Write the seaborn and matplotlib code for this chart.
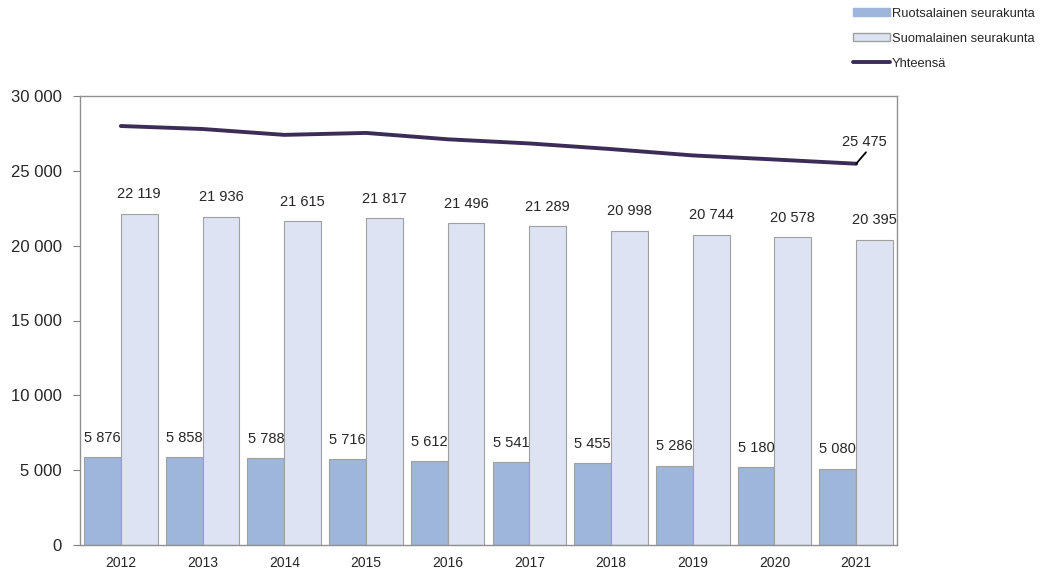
import numpy as np
import pandas as pd
import matplotlib
matplotlib.use("Agg")
import matplotlib.pyplot as plt
import seaborn as sns
from matplotlib.patches import Patch
from matplotlib.lines import Line2D

years = ["2012", "2013", "2014", "2015", "2016", "2017", "2018", "2019", "2020", "2021"]
ruotsalainen = [5876, 5858, 5788, 5716, 5612, 5541, 5455, 5286, 5180, 5080]
suomalainen = [22119, 21936, 21615, 21817, 21496, 21289, 20998, 20744, 20578, 20395]
yhteensa = [a + b for a, b in zip(ruotsalainen, suomalainen)]
series_names = ["Ruotsalainen seurakunta", "Suomalainen seurakunta", "Yhteensä"]

sns.set_style("white")
plt.rcParams['font.family'] = ['Liberation Sans', 'DejaVu Sans']

def fmt(v):
    return f"{v:,}".replace(",", " ")

df = pd.DataFrame({
    "year": years * 2,
    "value": ruotsalainen + suomalainen,
    "series": [series_names[0]] * len(years) + [series_names[1]] * len(years),
})

c_r = "#9DB6D9"
c_s = "#DDE3F3"
c_line = "#3C2D58"

fig = plt.figure(figsize=(10.43, 5.69), dpi=100)
ax = fig.add_axes([80 / 1043, 24 / 569, 817 / 1043, 449 / 569])

sns.barplot(data=df, x="year", y="value", hue="series", palette=[c_r, c_s],
            edgecolor="#A0A0A0", linewidth=0.8, width=0.9, ax=ax, legend=False,
            saturation=1)

for cont in ax.containers:
    ax.bar_label(cont, labels=[fmt(int(b.get_height())) for b in cont],
                 padding=9, fontsize=10.5)

sns.lineplot(x=np.arange(len(years)), y=yhteensa, color=c_line, linewidth=2.8, ax=ax,
             legend=False)

ax.annotate(fmt(yhteensa[-1]), xy=(len(years) - 1, yhteensa[-1]),
            xytext=(len(years) - 1 + 0.1, yhteensa[-1] + 1450), fontsize=10.5,
            ha="center", va="center",
            arrowprops=dict(arrowstyle="-", color="black", lw=1.3,
                            relpos=(0.6, 0.0), shrinkA=0, shrinkB=0))

ax.set_ylim(0, 30000)
ax.set_xlim(-0.5, len(years) - 0.5)
ax.set_yticks(np.arange(0, 30001, 5000))
ax.set_yticklabels([fmt(v) for v in range(0, 30001, 5000)], fontsize=12)
ax.set_xticks(np.arange(len(years)))
ax.set_xticklabels(years, fontsize=10)
ax.set_xticks(np.arange(-0.5, len(years), 1), minor=True)
ax.tick_params(axis="x", which="major", length=0, pad=8)
ax.tick_params(axis="x", which="minor", length=5, color="#808080", direction="out")
ax.tick_params(axis="y", length=5, color="#808080", direction="out", left=True, pad=8)
ax.set_xlabel("")
ax.set_ylabel("")
for s in ax.spines.values():
    s.set_color("#909090")
    s.set_linewidth(1.0)

handles = [Patch(facecolor=c_r, edgecolor=c_r),
           Patch(facecolor=c_s, edgecolor="#A0A0A0"),
           Line2D([0], [0], color=c_line, linewidth=2.8)]
fig.legend(handles, series_names, loc="upper left", bbox_to_anchor=(845 / 1043, 1.0),
           frameon=False, fontsize=9.3, handlelength=2.9, handleheight=0.6,
           labelspacing=1.0, handletextpad=0.15, borderaxespad=0.3,
           borderpad=0.3)

fig.savefig("out.png", dpi=100)
